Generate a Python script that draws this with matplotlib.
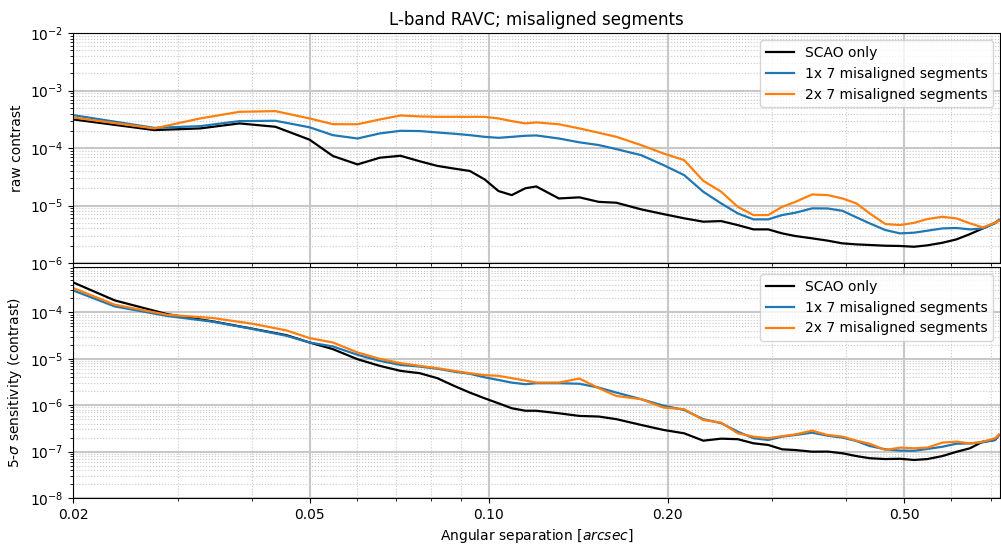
import matplotlib
matplotlib.use("Agg")
import matplotlib.pyplot as plt
from matplotlib.ticker import FixedLocator, FixedFormatter, LogLocator, NullFormatter

# separations (arcsec) used for the raw-contrast curves
sep_raw = [0.0200, 0.0274, 0.0327, 0.0381, 0.0438, 0.0500, 0.0547, 0.0602, 0.0656,
           0.0711, 0.0766, 0.0820, 0.0875, 0.0930, 0.0985, 0.1039, 0.1094, 0.1153,
           0.1203, 0.1313, 0.1422, 0.1532, 0.1641, 0.1805, 0.1969, 0.2133, 0.2297,
           0.2462, 0.2626, 0.2790, 0.2954, 0.3118, 0.3282, 0.3501, 0.3720, 0.3938,
           0.4157, 0.4376, 0.4650, 0.4923, 0.5197, 0.5470, 0.5798, 0.6126, 0.6455,
           0.6783, 0.7111, 0.7220]

raw_scao = [3.16e-4, 2.06e-4, 2.2e-4, 2.69e-4, 2.35e-4, 1.4e-4, 7.3e-5, 5.2e-5, 6.8e-5,
            7.35e-5, 5.9e-5, 4.9e-5, 4.4e-5, 4.0e-5, 2.85e-5, 1.79e-5, 1.52e-5, 2.0e-5,
            2.15e-5, 1.33e-5, 1.39e-5, 1.16e-5, 1.12e-5, 8.6e-6, 7.1e-6, 6.0e-6, 5.24e-6,
            5.37e-6, 4.57e-6, 3.85e-6, 3.85e-6, 3.28e-6, 2.95e-6, 2.69e-6, 2.45e-6, 2.2e-6,
            2.11e-6, 2.06e-6, 2.0e-6, 1.98e-6, 1.92e-6, 2.03e-6, 2.25e-6, 2.58e-6, 3.19e-6,
            4.0e-6, 5.0e-6, 5.6e-6]
raw_1x7 = [3.75e-4, 2.25e-4, 2.41e-4, 2.95e-4, 2.99e-4, 2.3e-4, 1.68e-4, 1.47e-4, 1.8e-4,
           2.0e-4, 1.98e-4, 1.87e-4, 1.78e-4, 1.68e-4, 1.57e-4, 1.51e-4, 1.57e-4, 1.64e-4,
           1.66e-4, 1.47e-4, 1.26e-4, 1.13e-4, 9.6e-5, 7.55e-5, 5.06e-5, 3.39e-5, 1.74e-5,
           1.09e-5, 7.3e-6, 5.75e-6, 5.75e-6, 6.84e-6, 7.5e-6, 8.93e-6, 8.9e-6, 8.1e-6,
           6.24e-6, 4.9e-6, 3.75e-6, 3.28e-6, 3.37e-6, 3.65e-6, 4.0e-6, 4.07e-6, 3.85e-6,
           4.0e-6, 4.9e-6, 5.5e-6]
raw_2x7 = [3.41e-4, 2.2e-4, 3.28e-4, 4.28e-4, 4.4e-4, 3.28e-4, 2.61e-4, 2.6e-4, 3.15e-4,
           3.7e-4, 3.56e-4, 3.5e-4, 3.5e-4, 3.5e-4, 3.5e-4, 3.28e-4, 2.95e-4, 2.69e-4,
           2.8e-4, 2.6e-4, 2.2e-4, 1.85e-4, 1.57e-4, 1.13e-4, 8.07e-5, 6.18e-5, 2.7e-5,
           1.74e-5, 9.5e-6, 6.84e-6, 6.84e-6, 9.5e-6, 1.16e-5, 1.56e-5, 1.52e-5, 1.33e-5,
           1.09e-5, 7.3e-6, 4.77e-6, 4.58e-6, 5.0e-6, 5.82e-6, 6.38e-6, 5.98e-6, 4.9e-6,
           4.17e-6, 5.0e-6, 5.5e-6]

# separations (arcsec) used for the 5-sigma sensitivity curves
sep_sens = [0.0200, 0.0235, 0.0288, 0.0344, 0.0401, 0.0457, 0.0500, 0.0547, 0.0602,
            0.0656, 0.0711, 0.0766, 0.0820, 0.0875, 0.0930, 0.0985, 0.1039, 0.1094,
            0.1153, 0.1203, 0.1313, 0.1422, 0.1532, 0.1641, 0.1805, 0.1969, 0.2133,
            0.2297, 0.2462, 0.2626, 0.2790, 0.2954, 0.3118, 0.3282, 0.3501, 0.3720,
            0.3938, 0.4157, 0.4376, 0.4650, 0.4923, 0.5197, 0.5470, 0.5798, 0.6126,
            0.6455, 0.6783, 0.7111, 0.7220]

sens_scao = [4.45e-4, 1.82e-4, 9.2e-5, 6.4e-5, 4.45e-5, 3.24e-5, 2.25e-5, 1.62e-5, 9.8e-6,
             7.06e-6, 5.5e-6, 4.9e-6, 3.83e-6, 2.61e-6, 1.87e-6, 1.41e-6, 1.1e-6, 8.6e-7,
             7.6e-7, 7.6e-7, 6.7e-7, 5.87e-7, 5.7e-7, 5.0e-7, 3.76e-7, 2.93e-7, 2.48e-7,
             1.72e-7, 1.9e-7, 1.85e-7, 1.51e-7, 1.39e-7, 1.12e-7, 1.08e-7, 9.95e-8, 1.0e-7,
             9.2e-8, 8.0e-8, 7.2e-8, 6.9e-8, 7.0e-8, 6.6e-8, 6.9e-8, 8.0e-8, 9.9e-8,
             1.18e-7, 1.64e-7, 1.78e-7, 2.28e-7]
sens_1x7 = [2.99e-4, 1.35e-4, 8.4e-5, 6.3e-5, 4.4e-5, 3.14e-5, 2.25e-5, 1.85e-5, 1.22e-5,
            9.05e-6, 7.4e-6, 6.8e-6, 6.1e-6, 5.3e-6, 4.75e-6, 4.0e-6, 3.5e-6, 3.07e-6,
            2.84e-6, 2.98e-6, 2.98e-6, 2.9e-6, 2.4e-6, 1.87e-6, 1.35e-6, 9.8e-7, 7.9e-7,
            5.0e-7, 4.1e-7, 2.69e-7, 1.94e-7, 1.78e-7, 2.1e-7, 2.28e-7, 2.56e-7, 2.2e-7,
            2.0e-7, 1.69e-7, 1.32e-7, 1.12e-7, 1.05e-7, 1.04e-7, 1.14e-7, 1.27e-7, 1.48e-7,
            1.5e-7, 1.58e-7, 1.78e-7, 2.28e-7]
sens_2x7 = [3.37e-4, 1.47e-4, 8.9e-5, 7.57e-5, 5.7e-5, 4.1e-5, 2.8e-5, 2.25e-5, 1.37e-5,
            1.0e-5, 8.07e-6, 7.06e-6, 6.3e-6, 5.5e-6, 4.9e-6, 4.45e-6, 4.3e-6, 3.83e-6,
            3.4e-6, 3.08e-6, 3.08e-6, 3.76e-6, 2.33e-6, 1.58e-6, 1.35e-6, 8.9e-7, 8.2e-7,
            4.8e-7, 4.2e-7, 2.48e-7, 2.1e-7, 1.94e-7, 2.15e-7, 2.35e-7, 2.83e-7, 2.28e-7,
            2.1e-7, 1.72e-7, 1.48e-7, 1.08e-7, 1.22e-7, 1.18e-7, 1.22e-7, 1.56e-7, 1.64e-7,
            1.5e-7, 1.64e-7, 1.94e-7, 2.3e-7]

labels = ["SCAO only", "1x 7 misaligned segments", "2x 7 misaligned segments"]
colors = ["black", "tab:blue", "tab:orange"]

xticks = [0.02, 0.05, 0.1, 0.2, 0.5]
xticklabels = ["0.02", "0.05", "0.10", "0.20", "0.50"]

plt.rcParams["font.size"] = 10

fig = plt.figure(figsize=(10.01, 5.44), dpi=100)
ax1 = fig.add_axes([0.073, 0.5165, 0.926, 0.4225])
ax2 = fig.add_axes([0.073, 0.0846, 0.926, 0.4244], sharex=ax1)

for y, lab, c in zip([raw_scao, raw_1x7, raw_2x7], labels, colors):
    ax1.plot(sep_raw, y, color=c, lw=1.6, label=lab)
for y, lab, c in zip([sens_scao, sens_1x7, sens_2x7], labels, colors):
    ax2.plot(sep_sens, y, color=c, lw=1.6, label=lab)

for ax in (ax1, ax2):
    ax.set_xscale("log")
    ax.set_yscale("log")
    ax.yaxis.set_minor_locator(LogLocator(base=10, subs=range(2, 10), numticks=20))
    ax.yaxis.set_minor_formatter(NullFormatter())
    ax.grid(which="major", color="#c8c8c8", lw=1.5)
    ax.grid(which="minor", color="#c8c8c8", lw=0.8, ls=":")
    ax.set_axisbelow(True)
    ax.legend(loc="upper right", fontsize=10)

ax1.set_xlim(0.02, 0.725)
ax1.xaxis.set_major_locator(FixedLocator(xticks))
ax1.xaxis.set_major_formatter(FixedFormatter(xticklabels))
ax1.xaxis.set_minor_formatter(NullFormatter())
ax1.tick_params(axis="x", labelbottom=False)

ax1.set_ylim(1e-6, 1e-2)
ax2.set_ylim(1e-8, 9.5e-4)

ax1.set_ylabel("raw contrast")
ax2.set_ylabel(r"5-$\sigma$ sensitivity (contrast)")
ax2.set_xlabel(r"Angular separation [$arcsec$]")
ax1.set_title("L-band RAVC; misaligned segments", fontsize=12)

fig.savefig("out.png", dpi=100)
